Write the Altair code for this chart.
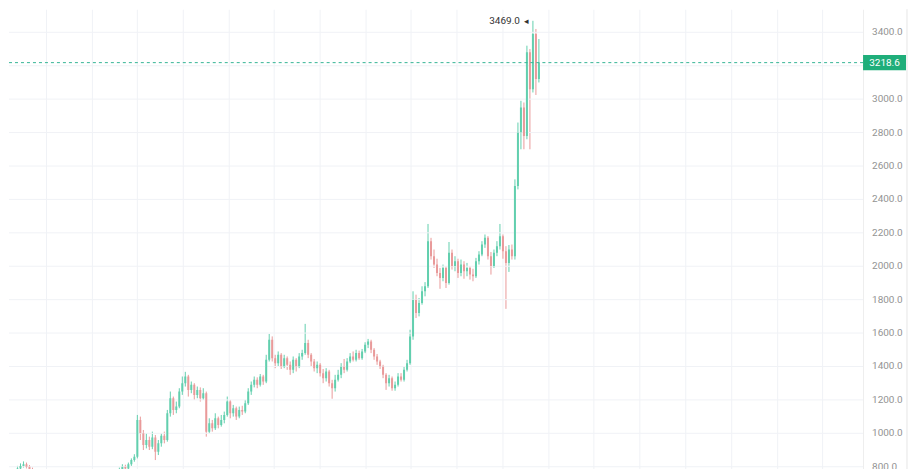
import altair as alt
import pandas as pd

# ---- data (one candle per index) ----
closes = [745, 760, 770, 755, 765, 790, 805, 815, 800, 785,
          760, 740, 720, 705, 690, 700, 680, 665, 650, 660,
          645, 630, 640, 655, 670, 660, 680, 700, 690, 710,
          720, 705, 725, 740, 730, 745, 755, 750, 765, 780,
          800, 790, 815, 840, 860, 1080, 1000, 930, 960, 920,
          975, 890, 940, 985, 960, 1120, 1210, 1140, 1160, 1250,
          1300, 1340, 1260, 1290, 1230, 1260, 1210, 1240, 1010, 1060,
          1030, 1090, 1050, 1080, 1110, 1190, 1120, 1150, 1100, 1140,
          1130, 1180, 1250, 1290, 1320, 1290, 1340, 1310, 1440, 1560,
          1450, 1420, 1470, 1400, 1450, 1410, 1380, 1440, 1400, 1460,
          1480, 1540, 1470, 1430, 1390, 1410, 1360, 1330, 1370, 1300,
          1270, 1320, 1350, 1400, 1380, 1430, 1460, 1440, 1480, 1450,
          1490, 1530, 1550, 1500, 1460, 1430, 1400, 1350, 1300, 1330,
          1270, 1290, 1340, 1320, 1380, 1420, 1580, 1800, 1720, 1780,
          1850, 1880, 2150, 2060, 2010, 1960, 1930, 1990, 1900, 2080,
          2000, 2030, 1960, 2010, 1970, 1990, 1950, 1940, 2030, 2070,
          2130, 2170, 2060, 2000, 2080, 2120, 2180, 2090, 2020, 2100,
          2060, 2480, 2800, 2950, 2780, 3280, 3060, 3390, 3120, 3218.6]
highs = [760, 775, 785, 780, 780, 805, 820, 832, 825, 810,
         795, 770, 750, 730, 715, 710, 710, 690, 675, 670,
         670, 655, 650, 665, 680, 685, 690, 710, 715, 720,
         735, 730, 735, 750, 755, 760, 770, 768, 778, 795,
         815, 812, 825, 850, 875, 1110, 1100, 1020, 1000, 980,
         1010, 990, 960, 1000, 1010, 1140, 1250, 1220, 1190, 1270,
         1340, 1368, 1350, 1310, 1300, 1280, 1275, 1270, 1250, 1090,
         1080, 1120, 1100, 1110, 1130, 1220, 1200, 1170, 1160, 1160,
         1165, 1200, 1270, 1310, 1340, 1335, 1355, 1350, 1470, 1595,
         1580, 1470, 1490, 1480, 1470, 1460, 1430, 1460, 1450, 1480,
         1500, 1655, 1560, 1480, 1445, 1430, 1420, 1385, 1390, 1380,
         1320, 1350, 1380, 1420, 1445, 1450, 1480, 1490, 1500, 1495,
         1505, 1545, 1565, 1560, 1510, 1475, 1440, 1410, 1360, 1350,
         1340, 1310, 1360, 1360, 1400, 1440, 1620, 1850, 1830, 1810,
         1880, 1905, 2253, 2170, 2100, 2045, 1990, 2010, 2000, 2145,
         2100, 2060, 2045, 2040, 2030, 2020, 2000, 1985, 2050, 2090,
         2150, 2190, 2180, 2085, 2100, 2150, 2253, 2190, 2120, 2127,
         2130, 2520, 2860, 2990, 2980, 3320, 3300, 3469, 3420, 3360]
lows = [725, 735, 750, 745, 745, 760, 780, 795, 790, 770,
        750, 730, 710, 695, 680, 680, 670, 655, 640, 640,
        635, 620, 620, 630, 645, 650, 650, 670, 680, 680,
        700, 695, 695, 715, 720, 720, 735, 740, 740, 755,
        770, 780, 785, 805, 830, 850, 960, 900, 910, 900,
        905, 840, 870, 920, 940, 950, 1100, 1110, 1120, 1150,
        1230, 1280, 1220, 1240, 1200, 1210, 1190, 1200, 980, 1000,
        1010, 1020, 1030, 1040, 1060, 1100, 1090, 1100, 1080, 1090,
        1110, 1120, 1170, 1230, 1275, 1270, 1280, 1290, 1300, 1430,
        1430, 1390, 1400, 1385, 1390, 1380, 1350, 1360, 1370, 1390,
        1440, 1470, 1450, 1400, 1370, 1360, 1340, 1300, 1310, 1280,
        1207, 1250, 1310, 1330, 1360, 1370, 1420, 1430, 1430, 1440,
        1440, 1480, 1510, 1480, 1440, 1410, 1385, 1330, 1260, 1280,
        1255, 1255, 1280, 1310, 1310, 1370, 1410, 1560, 1690, 1700,
        1770, 1820, 1870, 2040, 1990, 1940, 1865, 1910, 1870, 1890,
        1980, 1970, 1930, 1940, 1925, 1940, 1920, 1910, 1930, 2010,
        2060, 2110, 2040, 1950, 1990, 2060, 2100, 2045, 1745, 1966,
        2040, 2040, 2460, 2700, 2700, 2760, 2700, 3040, 3025, 3100]
first_open = 740
y_ticks = [800, 1000, 1200, 1400, 1600, 1800, 2000, 2200, 2400, 2600,
           2800, 3000, 3200, 3400, 3600]
grid_x = [14.5, 29.8, 44.8, 60.2, 75.5, 90.5, 105.8, 121.2, 136.2,
          151.5, 166.8, 182.2, 197.2, 212.5, 227.8, 243.2, 258.5, 273.5]
last_price = 3218.6
high_label = "3469.0"

opens = [first_open] + closes[:-1]
df = pd.DataFrame({
    "i": list(range(len(closes))),
    "open": opens, "close": closes, "high": highs, "low": lows,
})
df["dir"] = ["up" if c >= o else "down" for o, c in zip(df["open"], df["close"])]

UP, DOWN = "#62cfae", "#e99a9a"
GRID = "#f0f2f6"
W, H = 855, 462
Y_MIN, Y_MAX = 776, 3538
xs = alt.Scale(domain=[2.1667, 287.17], nice=False, zero=False)
ys = alt.Scale(domain=[Y_MIN, Y_MAX], nice=False, zero=False)
color = alt.Color("dir:N", scale=alt.Scale(domain=["up", "down"], range=[UP, DOWN]), legend=None)

x_axis = alt.Axis(values=grid_x, labels=False, ticks=False, domain=False,
                  grid=True, gridColor=GRID, title=None)
y_axis = alt.Axis(orient="right", labels=False, ticks=False, grid=False, title=None,
                  domain=True, domainColor="#eeeeee")

def Y(field):
    return alt.Y(field, scale=ys)

def X(field):
    return alt.X(field, scale=xs)

# horizontal grid lines and price labels, drawn from the tick list
tk = pd.DataFrame({"v": y_ticks})
tk["t"] = [f"{v:.1f}" for v in y_ticks]
hgrid = alt.Chart(tk).transform_filter(f"datum.v <= {Y_MAX}").mark_rule(
    color=GRID, strokeWidth=1, clip=True).encode(y=Y("v:Q"))
# the 3200.0 label sits under the last-price badge in the reference
ylabels = alt.Chart(tk).transform_filter(
    f"abs(datum.v - {last_price}) > 60 && datum.v <= {Y_MAX}").mark_text(
    color="#939393", fontSize=10, font="Roboto", align="left", baseline="middle",
    clip=False).encode(x=alt.value(W + 9), y=Y("v:Q"), text="t:N")

base = alt.Chart(df)
wicks = base.mark_rule(strokeWidth=1, clip=True).encode(
    x=alt.X("i:Q", scale=xs, axis=x_axis),
    y=alt.Y("low:Q", scale=ys, axis=y_axis), y2="high:Q", color=color)
bodies = base.mark_rule(strokeWidth=2, clip=True).encode(
    x=X("i:Q"), y=Y("open:Q"), y2="close:Q", color=color)

lp = pd.DataFrame({"p": [last_price], "t": [f"{last_price:.1f}"]})
dash = alt.Chart(lp).mark_rule(strokeDash=[3, 3], strokeWidth=1, color="#36b596").encode(
    y=Y("p:Q"))
box = alt.Chart(lp).mark_point(
    shape="M-1,-0.35L1,-0.35L1,0.35L-1,0.35Z", filled=True, opacity=1,
    size=1849, color="#1fae7a", strokeWidth=0, clip=False).encode(
    x=alt.value(876.5), y=Y("p:Q"))
box_txt = alt.Chart(lp).mark_text(color="white", fontSize=10, font="Roboto",
                                  align="center", baseline="middle", clip=False).encode(
    x=alt.value(876.5), y=Y("p:Q"), text="t:N")

hi_idx = int(df["high"].idxmax())
hp = pd.DataFrame({"i": [hi_idx], "p": [max(highs)], "t": [high_label]})
hi_txt = alt.Chart(hp).mark_text(color="#333333", fontSize=10, font="Roboto",
                                 align="right", baseline="middle", dx=-13).encode(
    x=X("i:Q"), y=Y("p:Q"), text="t:N")
hi_mark = alt.Chart(hp).mark_text(color="#333333", fontSize=9, font="Roboto",
                                  align="center", baseline="middle", dx=-6, text="\u25c2").encode(
    x=X("i:Q"), y=Y("p:Q"))

border = alt.Chart(lp).mark_rule(color="#e6e6e6", strokeWidth=1, clip=False).encode(
    x=alt.value(899), y=alt.value(0), y2=alt.value(H + 10))

chart = alt.layer(wicks, hgrid, bodies, dash, box, box_txt, hi_txt, hi_mark,
                  ylabels, border).properties(
    width=W, height=H, padding=0
).configure_view(stroke=None)

chart.save("out.html", embed_options={"renderer": "svg", "actions": False})
